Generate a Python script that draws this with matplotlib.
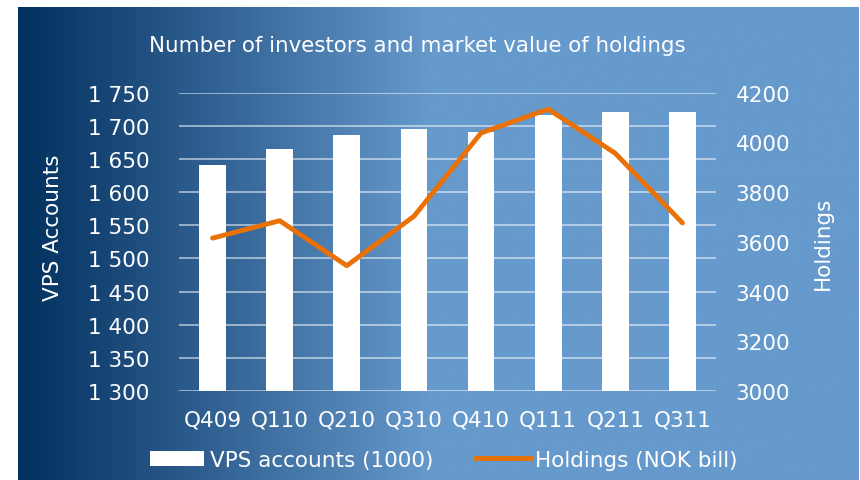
import numpy as np
import matplotlib
matplotlib.use("Agg")
import matplotlib.pyplot as plt
from matplotlib.colors import LinearSegmentedColormap
from matplotlib.ticker import FuncFormatter
from matplotlib.patches import Patch
from matplotlib.lines import Line2D

# Data
quarters = ['Q409', 'Q110', 'Q210', 'Q310', 'Q410', 'Q111', 'Q211', 'Q311']
vps_accounts = [1641, 1665, 1686, 1695, 1690, 1716, 1721, 1721]
holdings = [3615, 3685, 3504, 3703, 4038, 4134, 3956, 3676]

W, H = 860, 481
fig = plt.figure(figsize=(W / 100, H / 100), dpi=100)
fig.patch.set_facecolor('white')

# gradient background panel
bg = fig.add_axes([18 / W, 0, (859 - 18) / W, (H - 8) / H])
cmap = LinearSegmentedColormap.from_list('bg', [(0, '#02305f'), (0.49, '#6699cc'), (1, '#6699cc')])
grad = np.linspace(0, 1, 512).reshape(1, -1)
bg.imshow(grad, aspect='auto', cmap=cmap, extent=[0, 1, 0, 1])
bg.set_axis_off()

fs = 15.5
ax = fig.add_axes([179 / W, 1 - 392 / H, 537 / W, (392 - 93.7) / H])
ax.patch.set_visible(False)
x = np.arange(len(quarters))
ax.bar(x, [v - 1300 for v in vps_accounts], bottom=1300, width=0.4, color='white', zorder=3)
ax.set_xlim(-0.5, len(quarters) - 0.5)
ax.set_ylim(1300, 1750)
ax.set_yticks(np.arange(1300, 1751, 50))
ax.yaxis.set_major_formatter(FuncFormatter(lambda v, p: f'{int(v):,}'.replace(',', ' ')))
ax.set_xticks(x)
ax.set_xticklabels(quarters)
ax.grid(axis='y', color='white', alpha=0.6, linewidth=1.2, zorder=1)
for s in ax.spines.values():
    s.set_visible(False)
ax.tick_params(axis='y', length=0, pad=21, colors='white', labelsize=fs)
ax.tick_params(axis='x', length=0, pad=13, colors='white', labelsize=fs)
ax.set_ylabel('VPS Accounts', color='white', fontsize=fs)
ax.yaxis.set_label_coords(-0.216, 0.55)

ax2 = ax.twinx()
ax2.patch.set_visible(False)
ax2.plot(x, holdings, color='#ea7106', linewidth=3.5, solid_capstyle='round', zorder=4)
ax2.set_ylim(3000, 4200)
ax2.set_yticks(np.arange(3000, 4201, 200))
for s in ax2.spines.values():
    s.set_visible(False)
ax2.tick_params(axis='y', length=0, pad=14, colors='white', labelsize=fs)
ax2.set_ylabel('Holdings', color='white', fontsize=fs)
ax2.yaxis.set_label_coords(1.181, 0.497)

fig.text(417 / W, 1 - 46 / H, 'Number of investors and market value of holdings',
         color='white', fontsize=15.4, ha='center', va='center')

handles = [Patch(facecolor='white', edgecolor='none'),
           Line2D([0], [0], color='#ea7106', linewidth=3.5)]
fig.legend(handles, ['VPS accounts (1000)', 'Holdings (NOK bill)'],
           loc='center', bbox_to_anchor=(444 / W, 1 - 461 / H), ncol=2, frameon=False,
           fontsize=fs, labelcolor='white', handlelength=2.5, handletextpad=0.25,
           columnspacing=2.0)

fig.savefig('out.png', dpi=100, facecolor='white')
